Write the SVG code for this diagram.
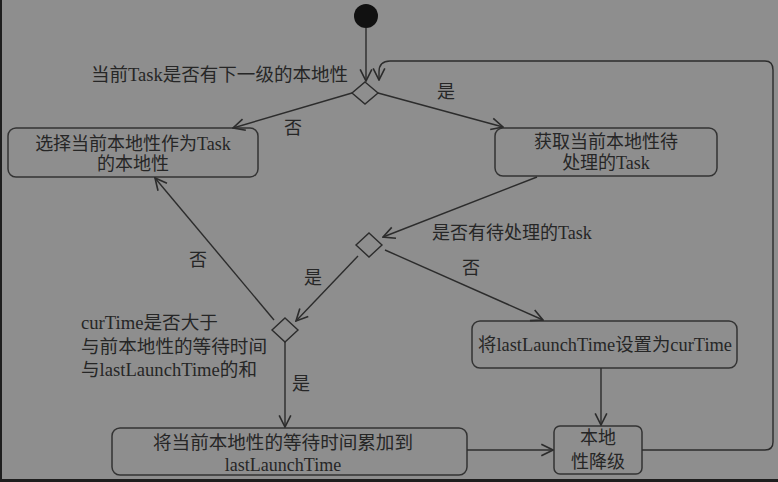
<svg xmlns="http://www.w3.org/2000/svg" width="778" height="482" viewBox="0 0 778 482">
<defs>
<style>
.bg{fill:#8e8e8e}
.node{fill:none;stroke:#333;stroke-width:1.5}
.dia{fill:none;stroke:#2c2c2c;stroke-width:1.4}
.ln{fill:none;stroke:#2c2c2c;stroke-width:1.4}
text{font-family:"Liberation Serif","Noto Sans CJK SC",serif;font-size:18px;fill:#262626;dominant-baseline:central}
.c{text-anchor:middle}
</style>
<marker id="ah" markerUnits="userSpaceOnUse" markerWidth="14" markerHeight="14" viewBox="0 0 12 12" refX="11" refY="6" orient="auto">
<path d="M1,1 L11,6 L1,11" fill="none" stroke="#2c2c2c" stroke-width="1.4"/>
</marker>
</defs>
<rect class="bg" x="0" y="0" width="778" height="482"/>
<rect x="0" y="0" width="2" height="482" fill="#1e1e1e"/>
<rect x="0" y="479" width="778" height="3" fill="#1e1e1e"/>

<g id="start"><circle cx="366" cy="16" r="12" fill="#111"/></g>

<g id="decision1"><path class="dia" d="M365,82 L378,93 L365,104 L352,93 Z"/>
<text x="91" y="75" textLength="257" lengthAdjust="spacingAndGlyphs">当前Task是否有下一级的本地性</text></g>

<g id="node-select"><rect class="node" x="8" y="128" width="250" height="49" rx="8"/>
<text class="c" x="133" y="144">选择当前本地性作为Task</text>
<text class="c" x="133" y="164">的本地性</text></g>

<g id="node-get"><rect class="node" x="495" y="128" width="222" height="48" rx="8"/>
<text class="c" x="606" y="142">获取当前本地性待</text>
<text class="c" x="606" y="163">处理的Task</text></g>

<g id="decision2"><path class="dia" d="M369,233 L382,245 L369,257 L356,245 Z"/>
<text x="432" y="233">是否有待处理的Task</text></g>

<g id="node-set"><rect class="node" x="472" y="321" width="265" height="47" rx="8"/>
<text x="478" y="345" textLength="254" lengthAdjust="spacingAndGlyphs">将lastLaunchTime设置为curTime</text></g>

<g id="decision3"><path class="dia" d="M285,318 L298,330 L285,342 L272,330 Z"/>
<text x="81" y="323" textLength="137" lengthAdjust="spacingAndGlyphs">curTime是否大于</text>
<text x="81" y="347" textLength="186" lengthAdjust="spacingAndGlyphs">与前本地性的等待时间</text>
<text x="81" y="370" textLength="176" lengthAdjust="spacingAndGlyphs">与lastLaunchTime的和</text></g>

<g id="node-add"><rect class="node" x="112" y="428" width="355" height="47" rx="8"/>
<text class="c" x="283" y="443" textLength="260" lengthAdjust="spacingAndGlyphs">将当前本地性的等待时间累加到</text>
<text class="c" x="283" y="465">lastLaunchTime</text></g>

<g id="node-degrade"><rect class="node" x="554" y="426" width="88" height="48" rx="6"/>
<text class="c" x="598" y="438">本地</text>
<text class="c" x="598" y="462">性降级</text></g>

<g id="connectors">
<path class="ln" d="M366,28 L366,81" marker-end="url(#ah)"/>
<path class="ln" d="M352,93 L233,128" marker-end="url(#ah)"/>
<path class="ln" d="M378,93 L503,127" marker-end="url(#ah)"/>
<path class="ln" d="M537,177 L383,237" marker-end="url(#ah)"/>
<path class="ln" d="M385,250 L543,320" marker-end="url(#ah)"/>
<path class="ln" d="M358,256 L296,321" marker-end="url(#ah)"/>
<path class="ln" d="M274,320 L155,178" marker-end="url(#ah)"/>
<path class="ln" d="M285,342 L285,427" marker-end="url(#ah)"/>
<path class="ln" d="M601,368 L601,425" marker-end="url(#ah)"/>
<path class="ln" d="M467,450 L553,450" marker-end="url(#ah)"/>
<path class="ln" d="M642,450 H765 Q773,450 773,442 V70 Q773,61 765,61 H390 Q379,61 379,72 V80" marker-end="url(#ah)"/>
<text class="c" x="293" y="128">否</text>
<text class="c" x="446" y="92">是</text>
<text class="c" x="471" y="268">否</text>
<text class="c" x="198" y="260">否</text>
<text class="c" x="313" y="278">是</text>
<text class="c" x="301" y="384">是</text>
</g>
</svg>
